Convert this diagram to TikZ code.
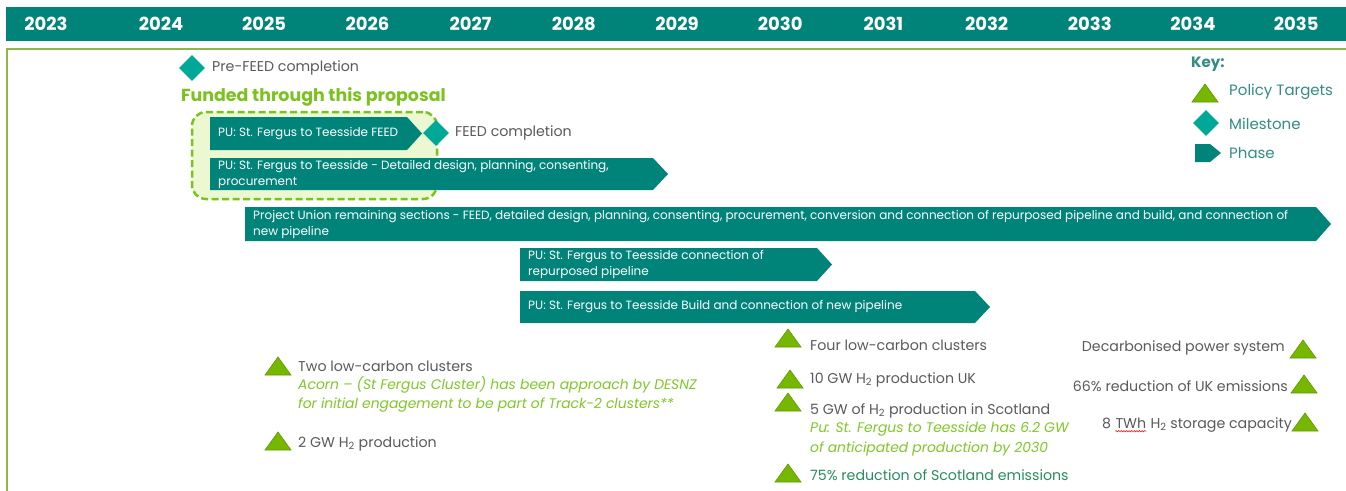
\documentclass[tikz,border=0pt]{standalone}
\usepackage{fontspec}
\setmainfont{Poppins}
\usetikzlibrary{shapes.geometric,positioning,calc,decorations.pathmorphing}

\definecolor{barteal}{RGB}{0,132,121}
\definecolor{msteal}{RGB}{0,168,152}
\definecolor{polgreen}{RGB}{118,184,0}
\definecolor{poledge}{RGB}{96,150,0}
\definecolor{fundgreen}{RGB}{124,194,30}
\definecolor{fundfill}{RGB}{236,248,210}
\definecolor{notegreen}{RGB}{128,199,40}
\definecolor{txtgray}{RGB}{90,90,90}
\definecolor{keyteal}{RGB}{52,140,134}
\definecolor{framegreen}{RGB}{141,184,72}
\definecolor{scotgreen}{RGB}{40,140,95}

% chevron phase bar: name, left, tip, top, bottom, text
\newcommand{\phasebar}[6]{%
  \fill[barteal] (#2,#4) -- (#3-15,#4) -- (#3,{(#4+#5)/2}) -- (#3-15,#5) -- (#2,#5) -- cycle;
  \node[phasetxt] (#1) at (#2+8,{(#4+#5)/2}) {#6};}

\tikzset{
  yearlbl/.style={text=white, font=\fontsize{18}{20}\selectfont\bfseries, inner sep=0pt},
  phasetxt/.style={text=white, font=\fontsize{12}{16}\selectfont, align=left, inner sep=0pt, anchor=west},
  milestone/.style={diamond, fill=msteal, minimum width=26pt, minimum height=26pt, inner sep=0pt},
  target/.style={regular polygon, regular polygon sides=3, fill=polgreen, draw=poledge, line width=0.6pt, minimum size=30pt, inner sep=0pt, yscale=0.8},
  lbl/.style={text=txtgray, font=\fontsize{14.2}{16}\selectfont, inner sep=0pt},
  note/.style={text=notegreen, font=\fontsize{13.9}{19.5}\selectfont\itshape, align=left, inner sep=0pt, anchor=north west},
  keylbl/.style={text=keyteal, font=\fontsize{15}{17}\selectfont, inner sep=0pt, anchor=west},
  fundbox/.style={draw=fundgreen, fill=fundfill, line width=2.5pt, dash pattern=on 7pt off 3.5pt, rounded corners=14pt, minimum width=245pt, minimum height=87pt, inner sep=0pt},
  squiggle/.style={red, line width=0.5pt, decorate, decoration={snake, amplitude=0.7pt, segment length=2.6pt}},
}

\begin{document}
\begin{tikzpicture}[x=1pt,y=-1pt]
    \useasboundingbox (0,0) rectangle (1346,490);
    \clip (0,0) rectangle (1346,490);
    \fill[white] (0,0) rectangle (1346,490);

    % year header
    \fill[barteal] (6,7) rectangle (1346,41);
    \foreach \yr/\px in {2023/46,2024/161,2025/264.2,2026/367.4,2027/470.6,2028/573.8,2029/677,2030/780.2,2031/883.4,2032/986.6,2033/1089.8,2034/1193,2035/1296.2}
        \node[yearlbl] (y\yr) at (\px,24) {\yr};

    % frame
    \draw[framegreen, line width=1.5pt] (7,49) rectangle (1400,520);

    % milestones and funded block
    \node[milestone] (prefeed) at (192,68) {};
    \node[lbl, anchor=west] (prefeedtxt) at (212,68) {Pre-FEED completion};
    \node[anchor=west, inner sep=0pt, text=fundgreen, font=\fontsize{17.4}{20}\selectfont\bfseries] (fundtxt) at (181,97) {Funded through this proposal};
    \node[fundbox] (fund) at (314.5,155.5) {};

    % phases
    \phasebar{feed}{210}{422}{117}{150}{PU: St. Fergus to Teesside FEED}
    \phasebar{detail}{210}{668}{158}{190}{PU: St. Fergus to Teesside - Detailed design, planning, consenting,\\procurement}
    \phasebar{remain}{245}{1331}{207}{241}{Project Union remaining sections - FEED, detailed design, planning, consenting, procurement, conversion and connection of repurposed pipeline and build, and connection of\\new pipeline}
    \phasebar{repurp}{520}{832}{248}{281}{PU: St. Fergus to Teesside connection of\\repurposed pipeline}
    \phasebar{build}{520}{990}{291}{323}{PU: St. Fergus to Teesside Build and connection of new pipeline}

    \node[milestone] (feedms) at (436,133) {};
    \node[lbl, anchor=west] (feedmstxt) at (455,133) {FEED completion};

    % policy targets 2025
    \node[target] (twoclus) at (278,369) {};
    \node[lbl, anchor=west] (twoclustxt) at (298,366) {Two low-carbon clusters};
    \node[note] (acorn) at (298,376) {Acorn – (St Fergus Cluster) has been approach by DESNZ\\for initial engagement to be part of Track-2 clusters**};
    \node[target] (twogw) at (278,444) {};
    \node[lbl, anchor=west] (twogwtxt) at (298,444) {2 GW H\textsubscript{2} production};

    % policy targets 2030
    \node[target] (fourclus) at (788,341) {};
    \node[lbl, anchor=west] (fourclustxt) at (810,345) {Four low-carbon clusters};
    \node[target] (tengw) at (790,382) {};
    \node[lbl, anchor=west] (tengwtxt) at (810,380) {10 GW H\textsubscript{2} production UK};
    \node[target] (fivegw) at (788,405) {};
    \node[lbl, anchor=west] (fivegwtxt) at (810,411) {5 GW of H\textsubscript{2} production in Scotland};
    \node[note] (sixgw) at (810,422) {Pu: St. Fergus to Teesside has 6.2 GW\\of anticipated production by 2030};
    \node[target] (scot) at (788,476) {};
    \node[lbl, anchor=west, text=scotgreen] (scottxt) at (810,475) {75\% reduction of Scotland emissions};

    % policy targets 2035
    \node[target] (power) at (1303,352) {};
    \node[lbl, anchor=east] (powertxt) at (1285,348) {Decarbonised power system};
    \node[target] (ukem) at (1304,387) {};
    \node[lbl, anchor=east] (ukemtxt) at (1288,386) {66\% reduction of UK emissions};
    \node[target] (storage) at (1305,425) {};
    \node[lbl, anchor=base east] (storagetxt) at (1292,428) {H\textsubscript{2} storage capacity};
    \node[lbl, anchor=base east] (twh) at ([xshift=-4pt]storagetxt.base west) {TWh};
    \node[lbl, anchor=base east] (eight) at ([xshift=-4pt]twh.base west) {8};
    \draw[squiggle] ([yshift=-3.2pt]twh.base west) -- ([yshift=-3.2pt]twh.base east);

    % key
    \node[anchor=west, inner sep=0pt, text=keyteal, font=\fontsize{15}{17}\selectfont\bfseries] (key) at (1191,64) {Key:};
    \node[target] (keytgt) at (1205,96) {};
    \node[keylbl] (keytgttxt) at (1229,92) {Policy Targets};
    \node[milestone] (keyms) at (1206,123) {};
    \node[keylbl] (keymstxt) at (1229,124) {Milestone};
    \fill[barteal] (1195,144) -- (1210,144) -- (1221,153) -- (1210,162) -- (1195,162) -- cycle;
    \node[keylbl] (keyphtxt) at (1229,153) {Phase};
\end{tikzpicture}
\end{document}
